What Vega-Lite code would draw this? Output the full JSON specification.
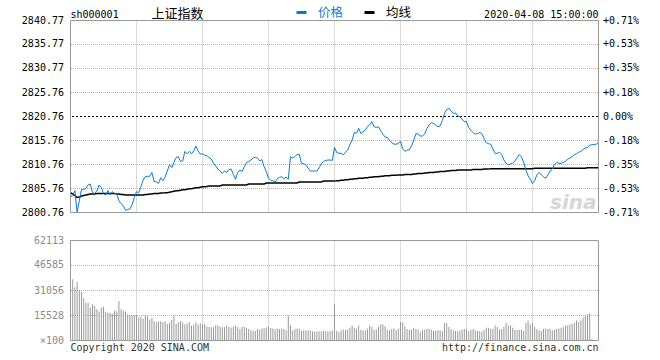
{
"$schema": "https://vega.github.io/schema/vega-lite/v6.json",
"width": 528,
"height": 320,
"autosize": {"type": "none"},
"padding": {"left": 70, "top": 20, "right": 62, "bottom": 20},
"background": "#ffffff",
"config": {
  "view": {"stroke": null},
  "axis": {"labelFont": "DejaVu Sans Mono", "labelFontSize": 10, "domain": false, "ticks": false, "tickSize": 0, "translate": 0, "grid": false},
  "text": {"font": "DejaVu Sans Mono", "fontSize": 10}
},
"datasets": {
  "grid": [{"m":30},{"m":60},{"m":90},{"m":120},{"m":150},{"m":180},{"m":210}],
  "pgrid": [{"g":2805.76},{"g":2810.76},{"g":2815.76},{"g":2825.76},{"g":2830.77},{"g":2835.77}],
  "vgrid": [{"g":15528},{"g":31056},{"g":46585}]
},
"data": {"values": [
{"m":0,"p":2804.0,"a":2804.9,"v":62113},{"m":1,"p":2804.4,"a":2804.6,"v":38000},{"m":2,"p":2805.3,"a":2804.3,"v":33000},{"m":3,"p":2800.8,"a":2803.9,"v":36500},{"m":4,"p":2803.2,"a":2804.0,"v":31500},
{"m":5,"p":2805.6,"a":2804.2,"v":30000},{"m":6,"p":2805.6,"a":2804.3,"v":26500},{"m":7,"p":2805.8,"a":2804.4,"v":23500},{"m":8,"p":2806.5,"a":2804.5,"v":23500},{"m":9,"p":2806.7,"a":2804.6,"v":20500},
{"m":10,"p":2804.9,"a":2804.6,"v":22500},{"m":11,"p":2804.7,"a":2804.6,"v":21500},{"m":12,"p":2805.3,"a":2804.7,"v":19500},{"m":13,"p":2806.5,"a":2804.7,"v":18000},{"m":14,"p":2806.0,"a":2804.7,"v":20500},
{"m":15,"p":2804.7,"a":2804.7,"v":21000},{"m":16,"p":2804.4,"a":2804.7,"v":18000},{"m":17,"p":2805.3,"a":2804.7,"v":17200},{"m":18,"p":2804.4,"a":2804.7,"v":17200},{"m":19,"p":2805.1,"a":2804.7,"v":16800},
{"m":20,"p":2804.7,"a":2804.7,"v":18500},{"m":21,"p":2804.7,"a":2804.6,"v":18000},{"m":22,"p":2803.2,"a":2804.6,"v":24500},{"m":23,"p":2802.6,"a":2804.5,"v":19500},{"m":24,"p":2802.2,"a":2804.5,"v":18600},
{"m":25,"p":2801.2,"a":2804.4,"v":17800},{"m":26,"p":2801.4,"a":2804.4,"v":16300},{"m":27,"p":2801.5,"a":2804.4,"v":15800},{"m":28,"p":2802.4,"a":2804.4,"v":15600},{"m":29,"p":2803.9,"a":2804.4,"v":15600},
{"m":30,"p":2805.1,"a":2804.4,"v":15800},{"m":31,"p":2804.9,"a":2804.4,"v":14200},{"m":32,"p":2806.1,"a":2804.4,"v":14800},{"m":33,"p":2807.5,"a":2804.4,"v":13500},{"m":34,"p":2808.2,"a":2804.5,"v":15800},
{"m":35,"p":2808.3,"a":2804.5,"v":15000},{"m":36,"p":2808.3,"a":2804.6,"v":13000},{"m":37,"p":2809.1,"a":2804.6,"v":14000},{"m":38,"p":2807.2,"a":2804.7,"v":12100},{"m":39,"p":2807.2,"a":2804.7,"v":11400},
{"m":40,"p":2806.8,"a":2804.7,"v":11800},{"m":41,"p":2808.0,"a":2804.8,"v":12000},{"m":42,"p":2807.4,"a":2804.8,"v":11500},{"m":43,"p":2808.1,"a":2804.9,"v":11900},{"m":44,"p":2809.4,"a":2804.9,"v":10200},
{"m":45,"p":2810.7,"a":2805.0,"v":11100},{"m":46,"p":2810.1,"a":2805.1,"v":12800},{"m":47,"p":2811.2,"a":2805.2,"v":15300},{"m":48,"p":2812.2,"a":2805.3,"v":10400},{"m":49,"p":2812.4,"a":2805.3,"v":11300},
{"m":50,"p":2811.4,"a":2805.4,"v":12000},{"m":51,"p":2811.5,"a":2805.5,"v":11200},{"m":52,"p":2813.5,"a":2805.5,"v":10000},{"m":53,"p":2813.0,"a":2805.6,"v":10600},{"m":54,"p":2813.5,"a":2805.7,"v":11500},
{"m":55,"p":2813.0,"a":2805.7,"v":9300},{"m":56,"p":2813.6,"a":2805.8,"v":9900},{"m":57,"p":2814.6,"a":2805.9,"v":11200},{"m":58,"p":2813.6,"a":2805.9,"v":9800},{"m":59,"p":2812.9,"a":2806.0,"v":10600},
{"m":60,"p":2813.0,"a":2806.1,"v":9900},{"m":61,"p":2812.7,"a":2806.1,"v":10400},{"m":62,"p":2812.6,"a":2806.2,"v":8800},{"m":63,"p":2812.2,"a":2806.3,"v":8400},{"m":64,"p":2811.9,"a":2806.3,"v":8200},
{"m":65,"p":2811.0,"a":2806.3,"v":8300},{"m":66,"p":2810.5,"a":2806.3,"v":9400},{"m":67,"p":2809.8,"a":2806.3,"v":9300},{"m":68,"p":2809.4,"a":2806.3,"v":8500},{"m":69,"p":2808.9,"a":2806.5,"v":8200},
{"m":70,"p":2809.4,"a":2806.5,"v":8300},{"m":71,"p":2809.1,"a":2806.5,"v":9400},{"m":72,"p":2809.7,"a":2806.5,"v":8500},{"m":73,"p":2809.8,"a":2806.5,"v":8000},{"m":74,"p":2808.7,"a":2806.5,"v":8800},
{"m":75,"p":2807.7,"a":2806.5,"v":9400},{"m":76,"p":2809.1,"a":2806.5,"v":8400},{"m":77,"p":2809.6,"a":2806.5,"v":7200},{"m":78,"p":2809.3,"a":2806.5,"v":8400},{"m":79,"p":2810.3,"a":2806.5,"v":8400},
{"m":80,"p":2811.2,"a":2806.5,"v":7800},{"m":81,"p":2811.4,"a":2806.7,"v":7200},{"m":82,"p":2811.7,"a":2806.7,"v":6300},{"m":83,"p":2812.1,"a":2806.7,"v":6100},{"m":84,"p":2812.3,"a":2806.7,"v":6100},
{"m":85,"p":2812.1,"a":2806.7,"v":7200},{"m":86,"p":2811.5,"a":2806.7,"v":6700},{"m":87,"p":2811.8,"a":2806.7,"v":7500},{"m":88,"p":2810.3,"a":2806.7,"v":7600},{"m":89,"p":2809.3,"a":2806.9,"v":8000},
{"m":90,"p":2807.9,"a":2806.9,"v":8900},{"m":91,"p":2807.5,"a":2806.9,"v":7800},{"m":92,"p":2807.4,"a":2806.9,"v":7400},{"m":93,"p":2807.1,"a":2806.9,"v":6900},{"m":94,"p":2807.8,"a":2806.9,"v":7400},
{"m":95,"p":2808.1,"a":2806.9,"v":7200},{"m":96,"p":2808.2,"a":2806.9,"v":7500},{"m":97,"p":2807.8,"a":2806.9,"v":7100},{"m":98,"p":2808.1,"a":2806.9,"v":6300},{"m":99,"p":2807.7,"a":2806.9,"v":15500},
{"m":100,"p":2812.4,"a":2806.9,"v":9500},{"m":101,"p":2812.1,"a":2806.9,"v":6300},{"m":102,"p":2812.4,"a":2806.9,"v":7200},{"m":103,"p":2812.9,"a":2806.9,"v":7400},{"m":104,"p":2812.8,"a":2807.1,"v":7400},
{"m":105,"p":2811.0,"a":2807.1,"v":5900},{"m":106,"p":2810.9,"a":2807.1,"v":6300},{"m":107,"p":2810.7,"a":2807.1,"v":6300},{"m":108,"p":2810.0,"a":2807.1,"v":6300},{"m":109,"p":2809.4,"a":2807.1,"v":6300},
{"m":110,"p":2809.4,"a":2807.1,"v":5600},{"m":111,"p":2809.4,"a":2807.1,"v":5600},{"m":112,"p":2809.4,"a":2807.1,"v":5600},{"m":113,"p":2810.1,"a":2807.1,"v":5700},{"m":114,"p":2810.9,"a":2807.1,"v":5600},
{"m":115,"p":2811.4,"a":2807.3,"v":6000},{"m":116,"p":2811.6,"a":2807.3,"v":5600},{"m":117,"p":2811.7,"a":2807.3,"v":5600},{"m":118,"p":2811.7,"a":2807.3,"v":5900},{"m":119,"p":2811.6,"a":2807.3,"v":6300},
{"m":120,"p":2814.3,"a":2807.3,"v":22600},{"m":121,"p":2813.3,"a":2807.4,"v":5900},{"m":122,"p":2813.1,"a":2807.4,"v":5200},{"m":123,"p":2813.1,"a":2807.5,"v":6300},{"m":124,"p":2812.8,"a":2807.5,"v":6700},
{"m":125,"p":2813.3,"a":2807.6,"v":6500},{"m":126,"p":2813.8,"a":2807.6,"v":6800},{"m":127,"p":2814.9,"a":2807.7,"v":7900},{"m":128,"p":2815.8,"a":2807.7,"v":9400},{"m":129,"p":2817.4,"a":2807.8,"v":7900},
{"m":130,"p":2817.3,"a":2807.8,"v":7300},{"m":131,"p":2818.3,"a":2807.9,"v":9400},{"m":132,"p":2817.2,"a":2807.9,"v":6700},{"m":133,"p":2817.6,"a":2807.9,"v":6300},{"m":134,"p":2817.9,"a":2808.0,"v":6400},
{"m":135,"p":2818.7,"a":2808.0,"v":7300},{"m":136,"p":2819.0,"a":2808.1,"v":9400},{"m":137,"p":2819.7,"a":2808.1,"v":8400},{"m":138,"p":2818.6,"a":2808.2,"v":6700},{"m":139,"p":2818.5,"a":2808.2,"v":6800},
{"m":140,"p":2818.6,"a":2808.2,"v":8400},{"m":141,"p":2817.8,"a":2808.3,"v":10000},{"m":142,"p":2817.1,"a":2808.3,"v":10000},{"m":143,"p":2816.5,"a":2808.4,"v":8800},{"m":144,"p":2816.4,"a":2808.4,"v":6300},
{"m":145,"p":2815.8,"a":2808.4,"v":6400},{"m":146,"p":2815.3,"a":2808.5,"v":7100},{"m":147,"p":2815.0,"a":2808.5,"v":7500},{"m":148,"p":2815.0,"a":2808.5,"v":6300},{"m":149,"p":2815.1,"a":2808.6,"v":7300},
{"m":150,"p":2815.6,"a":2808.6,"v":11500},{"m":151,"p":2814.0,"a":2808.6,"v":11300},{"m":152,"p":2813.5,"a":2808.7,"v":8800},{"m":153,"p":2813.8,"a":2808.7,"v":7100},{"m":154,"p":2813.8,"a":2808.7,"v":6700},
{"m":155,"p":2814.6,"a":2808.7,"v":6700},{"m":156,"p":2815.8,"a":2808.8,"v":7900},{"m":157,"p":2817.2,"a":2808.8,"v":7100},{"m":158,"p":2817.1,"a":2808.9,"v":6700},{"m":159,"p":2816.7,"a":2808.9,"v":5200},
{"m":160,"p":2816.7,"a":2808.9,"v":6700},{"m":161,"p":2817.1,"a":2809.0,"v":6800},{"m":162,"p":2818.3,"a":2809.0,"v":7100},{"m":163,"p":2819.0,"a":2809.1,"v":7300},{"m":164,"p":2819.5,"a":2809.1,"v":6700},
{"m":165,"p":2819.3,"a":2809.1,"v":5900},{"m":166,"p":2819.0,"a":2809.2,"v":5900},{"m":167,"p":2818.6,"a":2809.2,"v":6300},{"m":168,"p":2818.8,"a":2809.3,"v":6300},{"m":169,"p":2819.9,"a":2809.3,"v":5900},
{"m":170,"p":2821.4,"a":2809.3,"v":10900},{"m":171,"p":2822.2,"a":2809.4,"v":10800},{"m":172,"p":2822.5,"a":2809.4,"v":8400},{"m":173,"p":2821.9,"a":2809.5,"v":7100},{"m":174,"p":2821.4,"a":2809.5,"v":6300},
{"m":175,"p":2821.5,"a":2809.5,"v":5900},{"m":176,"p":2820.9,"a":2809.6,"v":5800},{"m":177,"p":2820.7,"a":2809.6,"v":6300},{"m":178,"p":2820.2,"a":2809.6,"v":6700},{"m":179,"p":2819.7,"a":2809.6,"v":7100},
{"m":180,"p":2819.7,"a":2809.6,"v":7100},{"m":181,"p":2818.5,"a":2809.6,"v":5900},{"m":182,"p":2817.9,"a":2809.6,"v":6700},{"m":183,"p":2817.4,"a":2809.7,"v":7100},{"m":184,"p":2817.1,"a":2809.7,"v":6300},
{"m":185,"p":2817.2,"a":2809.7,"v":5900},{"m":186,"p":2817.4,"a":2809.7,"v":5800},{"m":187,"p":2817.2,"a":2809.7,"v":5400},{"m":188,"p":2816.2,"a":2809.8,"v":6700},{"m":189,"p":2815.3,"a":2809.8,"v":7900},
{"m":190,"p":2815.1,"a":2809.8,"v":7800},{"m":191,"p":2815.0,"a":2809.9,"v":7300},{"m":192,"p":2814.0,"a":2809.9,"v":7300},{"m":193,"p":2813.1,"a":2809.9,"v":9400},{"m":194,"p":2813.1,"a":2809.9,"v":8400},
{"m":195,"p":2813.3,"a":2809.9,"v":6700},{"m":196,"p":2812.9,"a":2809.9,"v":7300},{"m":197,"p":2811.7,"a":2809.9,"v":8400},{"m":198,"p":2811.0,"a":2809.9,"v":10900},{"m":199,"p":2810.7,"a":2809.9,"v":9400},
{"m":200,"p":2810.9,"a":2809.9,"v":9300},{"m":201,"p":2811.0,"a":2809.9,"v":7900},{"m":202,"p":2811.5,"a":2809.9,"v":6700},{"m":203,"p":2812.2,"a":2809.9,"v":6600},{"m":204,"p":2812.8,"a":2809.9,"v":6700},
{"m":205,"p":2812.3,"a":2809.9,"v":6700},{"m":206,"p":2811.2,"a":2809.9,"v":5900},{"m":207,"p":2809.6,"a":2809.9,"v":10900},{"m":208,"p":2808.4,"a":2809.9,"v":12500},{"m":209,"p":2807.7,"a":2809.9,"v":10000},
{"m":210,"p":2806.8,"a":2809.9,"v":10900},{"m":211,"p":2807.4,"a":2810.0,"v":8400},{"m":212,"p":2808.6,"a":2810.0,"v":7100},{"m":213,"p":2809.1,"a":2810.0,"v":6300},{"m":214,"p":2808.6,"a":2810.0,"v":5900},
{"m":215,"p":2808.2,"a":2810.0,"v":7100},{"m":216,"p":2807.9,"a":2810.0,"v":7300},{"m":217,"p":2808.6,"a":2810.0,"v":7300},{"m":218,"p":2809.4,"a":2810.0,"v":7300},{"m":219,"p":2809.8,"a":2810.0,"v":6300},
{"m":220,"p":2810.8,"a":2810.0,"v":6700},{"m":221,"p":2811.2,"a":2810.0,"v":7300},{"m":222,"p":2811.0,"a":2810.0,"v":7400},{"m":223,"p":2811.0,"a":2810.0,"v":7900},{"m":224,"p":2811.2,"a":2810.0,"v":8400},
{"m":225,"p":2811.4,"a":2810.0,"v":9400},{"m":226,"p":2811.9,"a":2810.0,"v":9400},{"m":227,"p":2812.1,"a":2810.0,"v":10000},{"m":228,"p":2812.4,"a":2810.0,"v":10400},{"m":229,"p":2812.8,"a":2810.0,"v":10900},
{"m":230,"p":2813.0,"a":2810.0,"v":12500},{"m":231,"p":2813.3,"a":2810.0,"v":11500},{"m":232,"p":2813.5,"a":2810.0,"v":12500},{"m":233,"p":2813.9,"a":2810.0,"v":14200},{"m":234,"p":2814.2,"a":2810.0,"v":15700},
{"m":235,"p":2814.3,"a":2810.1,"v":16300},{"m":236,"p":2814.8,"a":2810.1,"v":17100},{"m":237,"p":2814.9,"a":2810.1,"v":1000},{"m":238,"p":2814.9,"a":2810.1,"v":0},{"m":239,"p":2815.0,"a":2810.1,"v":0},
{"m":240,"p":2815.4,"a":2810.1,"v":0}
]},
"layer": [
  {
    "layer": [
      {
        "data": {"values": [{}]},
        "mark": {"type": "text", "text": "sina", "font": "DejaVu Sans", "fontSize": 20, "fontStyle": "italic", "fontWeight": "bold", "fill": "#d6d6d6", "align": "right", "baseline": "alphabetic", "dx": -2, "dy": -4},
        "encoding": {"x": {"datum": 240, "type": "quantitative", "axis": null}, "y": {"datum": 2800.76, "type": "quantitative", "axis": null}}
      },
      {
        "data": {"name": "grid"},
        "mark": {"type": "rule", "stroke": "#b4b4b4", "strokeDash": [1, 1], "strokeWidth": 1},
        "encoding": {
          "x": {"field": "m", "type": "quantitative", "axis": null},
          "y": {"datum": 2800.76, "type": "quantitative", "axis": null},
          "y2": {"datum": 2840.77}
        }
      },
      {
        "data": {"name": "pgrid"},
        "mark": {"type": "rule", "stroke": "#b4b4b4", "strokeDash": [1, 1], "strokeWidth": 1},
        "encoding": {"y": {"field": "g", "type": "quantitative", "axis": null}}
      },
      {
        "data": {"values": [{}]},
        "mark": {"type": "rule", "stroke": "#000000", "strokeDash": [2, 2], "strokeWidth": 1},
        "encoding": {"y": {"datum": 2820.76, "type": "quantitative", "axis": null}}
      },
      {
        "mark": {"type": "line", "strokeWidth": 1.5},
        "encoding": {
          "x": {"field": "m", "type": "quantitative", "axis": null},
          "y": {"field": "a", "type": "quantitative",
            "axis": {"orient": "right", "title": null, "labelPadding": 5,
              "values": [2800.76, 2805.76, 2810.76, 2815.76, 2820.76, 2825.76, 2830.77, 2835.77, 2840.77],
              "labelExpr": "(datum.value > 2820.765 ? '+' : (datum.value < 2820.755 ? '-' : '')) + format(abs(datum.value - 2820.76) / 28.2076, '.2f') + '%'",
              "encode": {"labels": {"update": {"fill": {"signal": "datum.value > 2820.765 ? '#ff0000' : (datum.value < 2820.755 ? '#008000' : '#000000')"}}}}}},
          "color": {"datum": "均线"}
        }
      },
      {
        "mark": {"type": "line", "strokeWidth": 1},
        "encoding": {
          "x": {"field": "m", "type": "quantitative",
            "scale": {"domain": [0, 240], "range": [0.5, 528.5], "nice": false, "zero": false},
            "axis": {"orient": "bottom", "offset": -128, "title": null, "labelPadding": 8,
              "values": [0, 30, 60, 90, 120, 150, 180, 210, 240],
              "labelExpr": "['09:30','10:00','10:30','11:00','11:30','13:30','14:00','14:30','15:00'][round(datum.value / 30)]",
              "labelColor": "#1a7fcf", "labelFlush": false, "labelOverlap": false}},
          "y": {"field": "p", "type": "quantitative",
            "scale": {"domain": [2800.76, 2840.77], "range": [192.5, 0.5], "nice": false, "zero": false},
            "axis": {"orient": "left", "title": null, "labelPadding": 6,
              "values": [2800.76, 2805.76, 2810.76, 2815.76, 2820.76, 2825.76, 2830.77, 2835.77, 2840.77],
              "format": ".2f",
              "encode": {"labels": {"update": {"fill": {"signal": "datum.value > 2820.765 ? '#ff0000' : (datum.value < 2820.755 ? '#008000' : '#000000')"}}}}}},
          "color": {"datum": "价格",
            "scale": {"domain": ["价格", "均线"], "range": ["#0a7bd3", "#000000"]},
            "legend": {"orient": "none", "legendX": 225, "legendY": -14, "direction": "horizontal", "title": null,
              "symbolType": "stroke", "symbolSize": 100, "symbolStrokeWidth": 3, "labelFont": "Noto Sans CJK SC",
              "labelFontSize": 12.5, "labelOffset": 10, "columnPadding": 14, "padding": 0,
              "encode": {"labels": {"update": {"fill": {"signal": "datum.value === '价格' ? '#0a7bd3' : '#000000'"}}}}}}
        }
      },
      {
        "data": {"values": [{}]},
        "mark": {"type": "rect", "filled": false, "stroke": "#999999", "strokeWidth": 1},
        "encoding": {
          "x": {"datum": 0, "type": "quantitative", "axis": null},
          "x2": {"datum": 240},
          "y": {"datum": 2800.76, "type": "quantitative", "axis": null},
          "y2": {"datum": 2840.77}
        }
      },
      {
        "data": {"values": [{}]},
        "mark": {"type": "text", "text": "sh000001", "align": "left", "baseline": "alphabetic", "dy": -3, "fill": "#000000"},
        "encoding": {"x": {"datum": 0, "type": "quantitative", "axis": null}, "y": {"datum": 2840.77, "type": "quantitative", "axis": null}}
      },
      {
        "data": {"values": [{}]},
        "mark": {"type": "text", "text": "上证指数", "font": "Noto Sans CJK SC", "fontSize": 13, "align": "left", "baseline": "alphabetic", "dx": 81, "dy": -3, "fill": "#000000"},
        "encoding": {"x": {"datum": 0, "type": "quantitative", "axis": null}, "y": {"datum": 2840.77, "type": "quantitative", "axis": null}}
      },
      {
        "data": {"values": [{}]},
        "mark": {"type": "text", "text": "2020-04-08 15:00:00", "align": "right", "baseline": "alphabetic", "dy": -3, "fill": "#000000"},
        "encoding": {"x": {"datum": 240, "type": "quantitative", "axis": null}, "y": {"datum": 2840.77, "type": "quantitative", "axis": null}}
      }
    ],
    "resolve": {"axis": {"y": "independent"}}
  },
  {
    "layer": [
      {
        "data": {"name": "grid"},
        "mark": {"type": "rule", "stroke": "#b4b4b4", "strokeDash": [1, 1], "strokeWidth": 1},
        "encoding": {
          "x": {"field": "m", "type": "quantitative", "axis": null},
          "y": {"datum": 0, "type": "quantitative", "axis": null},
          "y2": {"datum": 62113}
        }
      },
      {
        "data": {"name": "vgrid"},
        "mark": {"type": "rule", "stroke": "#b4b4b4", "strokeDash": [1, 1], "strokeWidth": 1},
        "encoding": {"y": {"field": "g", "type": "quantitative", "axis": null}}
      },
      {
        "mark": {"type": "rule", "stroke": "#999999", "strokeWidth": 1},
        "encoding": {
          "x": {"field": "m", "type": "quantitative", "axis": null},
          "y": {"field": "v", "type": "quantitative",
            "scale": {"domain": [0, 62113], "range": [320.5, 220.5], "nice": false},
            "axis": {"orient": "left", "title": null, "labelPadding": 6,
              "values": [0, 15528, 31056, 46585, 62113], "format": "d",
              "labelExpr": "datum.value == 0 ? '×100' : datum.label", "labelColor": "#8c8c8c"}},
          "y2": {"datum": 0}
        }
      },
      {
        "data": {"values": [{}]},
        "mark": {"type": "rect", "filled": false, "stroke": "#999999", "strokeWidth": 1},
        "encoding": {
          "x": {"datum": 0, "type": "quantitative", "axis": null},
          "x2": {"datum": 240},
          "y": {"datum": 0, "type": "quantitative", "axis": null},
          "y2": {"datum": 62113}
        }
      },
      {
        "data": {"values": [{}]},
        "mark": {"type": "text", "text": "Copyright 2020 SINA.COM", "align": "left", "baseline": "top", "dy": 2, "fill": "#333333"},
        "encoding": {"x": {"datum": 0, "type": "quantitative", "axis": null}, "y": {"datum": 0, "type": "quantitative", "axis": null}}
      },
      {
        "data": {"values": [{}]},
        "mark": {"type": "text", "text": "http://finance.sina.com.cn", "align": "right", "baseline": "top", "dy": 2, "fill": "#333333"},
        "encoding": {"x": {"datum": 240, "type": "quantitative", "axis": null}, "y": {"datum": 0, "type": "quantitative", "axis": null}}
      }
    ],
    "resolve": {"axis": {"y": "independent"}}
  }
],
"resolve": {"scale": {"y": "independent"}}
}
